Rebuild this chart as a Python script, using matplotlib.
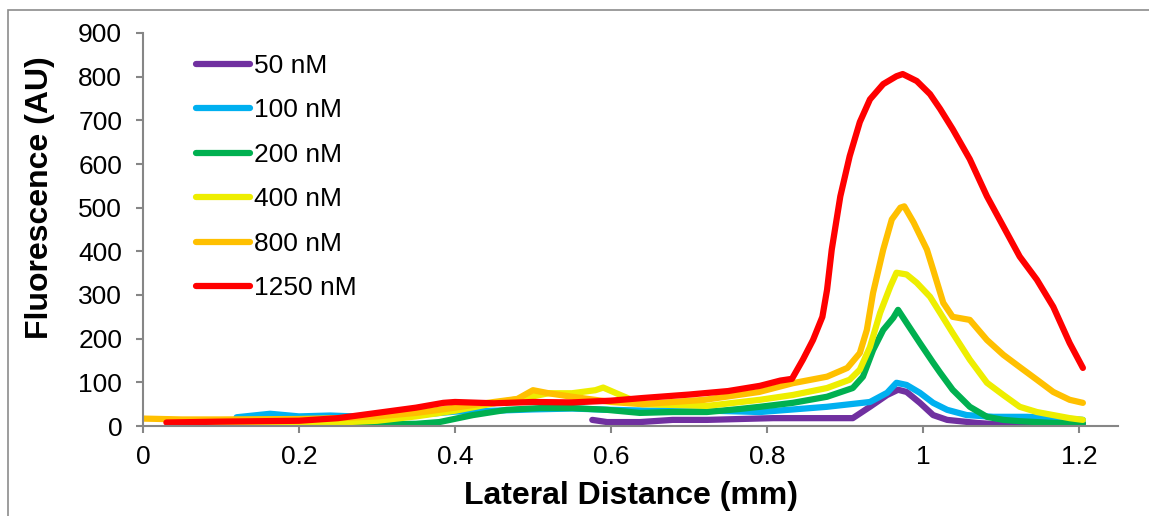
import matplotlib
matplotlib.use("Agg")
import matplotlib.pyplot as plt
from matplotlib.patches import Rectangle

plt.rcParams['font.family'] = ['Liberation Sans', 'DejaVu Sans']

# readings taken off the reference trace (distance in mm, fluorescence in AU)
x_50 = [0.576, 0.595, 0.637, 0.679, 0.723, 0.765, 0.808, 0.833, 0.877, 0.91,
        0.932, 0.954, 0.968, 0.979, 0.996, 1.013, 1.031, 1.069, 1.112, 1.154, 1.205]
y_50 = [14, 9, 9, 14, 14, 16, 18, 18, 18, 18,
        44, 71, 83, 78, 53, 25, 14, 7, 2, 2, 5]

x_100 = [0.12, 0.163, 0.2, 0.24, 0.3, 0.35, 0.4, 0.45, 0.5, 0.55, 0.6, 0.65, 0.7,
         0.75, 0.791, 0.877, 0.932, 0.954, 0.966, 0.979, 0.996, 1.013, 1.031,
         1.056, 1.09, 1.133, 1.176, 1.205]
y_100 = [20, 28, 22, 24, 20, 25, 33, 35, 38, 40, 37, 35, 36,
         34, 32, 44, 55, 76, 99, 94, 76, 53, 37,
         25, 21, 21, 18, 14]

x_200 = [0.06, 0.2, 0.3, 0.35, 0.38, 0.423, 0.466, 0.509, 0.551, 0.595, 0.637,
         0.679, 0.723, 0.765, 0.791, 0.833, 0.877, 0.91, 0.923, 0.936, 0.949,
         0.962, 0.968, 0.979, 0.996, 1.013, 1.022, 1.038, 1.06, 1.082, 1.103,
         1.124, 1.167, 1.205]
y_200 = [2, 3, 4, 5, 9, 25, 37, 41, 41, 37, 30,
         32, 32, 39, 44, 53, 67, 87, 113, 174, 220,
         248, 266, 236, 190, 145, 122, 83, 44, 21, 14,
         11, 7, 6]

x_400 = [0.07, 0.15, 0.25, 0.3, 0.35, 0.4, 0.45, 0.5, 0.52, 0.55, 0.58, 0.59,
         0.612, 0.64, 0.723, 0.791, 0.833, 0.877, 0.906, 0.919, 0.932, 0.945,
         0.958, 0.966, 0.979, 0.992, 1.009, 1.022, 1.038, 1.06, 1.082, 1.103,
         1.124, 1.146, 1.167, 1.188, 1.205]
y_400 = [5, 6, 8, 12, 22, 35, 52, 68, 75, 75, 82, 88,
         71, 50, 46, 60, 71, 87, 106, 129, 181, 259,
         319, 351, 347, 328, 296, 259, 213, 152, 99, 71,
         44, 32, 25, 18, 14]

x_800 = [0.0, 0.05, 0.1, 0.2, 0.25, 0.3, 0.35, 0.4, 0.45, 0.48, 0.5, 0.52, 0.55,
         0.6, 0.64, 0.72, 0.79, 0.833, 0.877, 0.903, 0.919, 0.928, 0.936, 0.949,
         0.96, 0.971, 0.976, 0.988, 1.005, 1.013, 1.026, 1.038, 1.06, 1.082,
         1.103, 1.124, 1.146, 1.167, 1.188, 1.205]
y_800 = [17, 15, 15, 16, 18, 22, 30, 42, 55, 62, 82, 75, 67,
         55, 50, 60, 78, 98, 113, 133, 167, 220, 305, 404,
         473, 500, 503, 466, 404, 358, 282, 250, 243, 197,
         163, 135, 106, 78, 60, 53]

x_1250 = [0.03, 0.1, 0.2, 0.25, 0.3, 0.35, 0.385, 0.4, 0.45, 0.5, 0.55, 0.6,
          0.64, 0.7, 0.75, 0.791, 0.817, 0.832, 0.846, 0.859, 0.871, 0.877,
          0.883, 0.894, 0.906, 0.919, 0.932, 0.949, 0.966, 0.974, 0.992, 1.009,
          1.022, 1.038, 1.06, 1.082, 1.103, 1.124, 1.146, 1.167, 1.188, 1.205]
y_1250 = [8, 10, 12, 18, 30, 42, 53, 55, 52, 55, 54, 58,
          64, 72, 80, 92, 104, 108, 152, 197, 250, 312,
          404, 526, 618, 696, 748, 783, 801, 806, 790, 760,
          726, 680, 611, 526, 457, 388, 335, 273, 190, 133]

labels = ['50 nM', '100 nM', '200 nM', '400 nM', '800 nM', '1250 nM']
xs = [x_50, x_100, x_200, x_400, x_800, x_1250]
ys = [y_50, y_100, y_200, y_400, y_800, y_1250]
colors = ['#7030A0', '#00B0F0', '#00B050', '#EEEE00', '#FFC000', '#FF0000']

x_ticks = [0, 0.2, 0.4, 0.6, 0.8, 1, 1.2]
x_tick_labels = ['0', '0.2', '0.4', '0.6', '0.8', '1', '1.2']
y_ticks = list(range(0, 901, 100))

W, H = 1149, 516
fig = plt.figure(figsize=(W / 100, H / 100), dpi=100)
ax = fig.add_axes([143 / W, 1 - 426 / H, (1118 - 143) / W, (426 - 33) / H])

for x, y, c, lab in zip(xs, ys, colors, labels):
    ax.plot(x, y, color=c, lw=4.5, label=lab, solid_capstyle='round',
            solid_joinstyle='round')

ax.set_xlim(0, 1.25)
ax.set_ylim(0, 900)
ax.set_xticks(x_ticks)
ax.set_xticklabels(x_tick_labels)
ax.set_yticks(y_ticks)

gray = '#868686'
for side in ['top', 'right']:
    ax.spines[side].set_visible(False)
for side in ['left', 'bottom']:
    ax.spines[side].set_color(gray)
    ax.spines[side].set_linewidth(1.5)
ax.tick_params(axis='both', direction='out', length=5, width=1.5, color=gray,
               labelsize=19)
ax.tick_params(axis='x', pad=9)
ax.tick_params(axis='y', pad=10)

ax.set_xlabel('Lateral Distance (mm)', fontsize=23, fontweight='bold', labelpad=8)
ax.set_ylabel('Fluorescence (AU)', fontsize=23, fontweight='bold')
ax.yaxis.set_label_coords((55 - 143) / 975, (426 - 198) / 393)

leg = ax.legend(loc='upper left', bbox_to_anchor=(196 / W, 1 - 54 / H),
                bbox_transform=fig.transFigure, frameon=False, fontsize=19,
                handlelength=2.05, handletextpad=0.15, labelspacing=0.775,
                borderpad=0, borderaxespad=0)
for line in leg.get_lines():
    line.set_linewidth(4.5)

# chart-area border (left and top edges show in the reference)
fig.patches.append(Rectangle((8 / W, -0.1), 1.2, 1 - 10 / H + 0.1,
                             transform=fig.transFigure, fill=False,
                             edgecolor='#8c8c8c', lw=1.2))

fig.savefig('out.png', dpi=100)
